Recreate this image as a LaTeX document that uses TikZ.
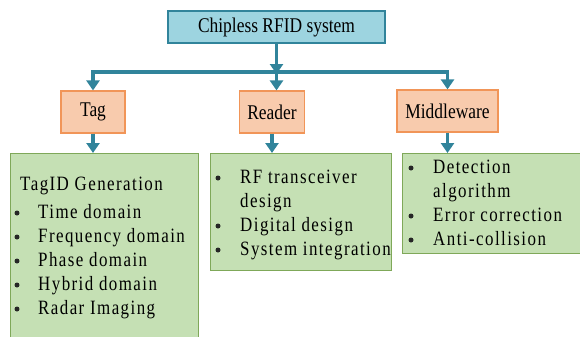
\documentclass[tikz,border=0pt]{standalone}
\usepackage{fontspec}
\setmainfont{Liberation Serif}
\usetikzlibrary{arrows.meta}
\definecolor{teal1}{HTML}{31849B}
\definecolor{bluefill}{HTML}{9DD4E0}
\definecolor{orangefill}{HTML}{F8CBAD}
\definecolor{orangeline}{HTML}{F19558}
\definecolor{greenfill}{HTML}{C5E0B4}
\definecolor{greenline}{HTML}{7FA859}
\newfontfamily\listfont[LetterSpace=8.5]{Liberation Serif}
% text set slightly taller than wide
\newcommand\tallText[1]{\scalebox{1}[1.2]{#1}}
\tikzset{
  topbox/.style={draw=teal1, line width=1.5bp, fill=bluefill, inner sep=0pt,
    font=\fontsize{17.5}{20}\selectfont},
  partbox/.style={draw=orangeline, line width=1.2bp, fill=orangefill, inner sep=0pt,
    font=\fontsize{17.5}{20}\selectfont},
  listbox/.style={draw=greenline, line width=1.2bp, fill=greenfill, inner sep=0pt},
  arr/.style={draw=teal1, line width=3.2bp, -{Triangle[width=13bp,length=10bp]}},
  itemtext/.style={anchor=base west, inner sep=0pt, font=\listfont\fontsize{17}{20}\selectfont},
  bullet/.style={circle, fill=black!85, inner sep=0pt, minimum size=5bp}
}
\begin{document}
\begin{tikzpicture}[x=1bp,y=-1bp]
\useasboundingbox (0,0) rectangle (580,336);

% top level and the three parts
\node[topbox, minimum width=217bp, minimum height=32bp] (sys) at (276.5,27) {\tallText{Chipless RFID system}};
\node[partbox, minimum width=64bp, minimum height=42bp] (tag) at (93,112) {\tallText{Tag}};
\node[partbox, minimum width=65bp, minimum height=42bp] (reader) at (272,112) {\tallText{Reader}};
\node[partbox, minimum width=101bp, minimum height=42bp] (mid) at (447.5,111) {\tallText{Middleware}};

% detail boxes
\node[listbox, minimum width=188bp, minimum height=190bp, anchor=north west] (taglist) at (10,153) {};
\node[listbox, minimum width=181bp, minimum height=117bp, anchor=north west] (readerlist) at (210,153) {};
\node[listbox, minimum width=185bp, minimum height=100bp, anchor=north west] (midlist) at (402,153) {};

% connectors
\coordinate (split) at (sys.south |- 0,72);
\draw[arr] (sys.south) -- ([yshift=-2bp]split);
\draw[arr] (split) -| (tag.north);
\draw[arr] (split) -| (mid.north);
\draw[arr] (split) -- (split |- reader.north);
\draw[arr] (tag.south) -- (tag.south |- taglist.north);
\draw[arr] (reader.south) -- (reader.south |- readerlist.north);
\draw[arr] (mid.south) -- (mid.south |- midlist.north);

% Tag details
\node[itemtext] (tagtitle) at (20,190) {\tallText{TagID Generation}};
\foreach \t [count=\i] in {Time domain, Frequency domain, Phase domain, Hybrid domain, Radar Imaging}{
  \node[bullet] (tb\i) at (17,{213+24*(\i-1)}) {};
  \node[itemtext] (tt\i) at (38,{218+24*(\i-1)}) {\tallText{\t}};
}

% Reader details
\node[bullet] (rb1) at (218,178) {};
\node[itemtext] (rt1) at (240,183) {\tallText{RF transceiver}};
\node[itemtext] (rt1b) at (240,207) {\tallText{design}};
\node[bullet] (rb2) at (218,226) {};
\node[itemtext] (rt2) at (240,231) {\tallText{Digital design}};
\node[bullet] (rb3) at (218,250) {};
\node[itemtext] (rt3) at (240,255) {\tallText{System integration}};

% Middleware details
\node[bullet] (mb1) at (411,168) {};
\node[itemtext] (mt1) at (433,173) {\tallText{Detection}};
\node[itemtext] (mt1b) at (433,197) {\tallText{algorithm}};
\node[bullet] (mb2) at (411,216) {};
\node[itemtext] (mt2) at (433,221) {\tallText{Error correction}};
\node[bullet] (mb3) at (411,240) {};
\node[itemtext] (mt3) at (433,245) {\tallText{Anti-collision}};
\end{tikzpicture}
\end{document}
